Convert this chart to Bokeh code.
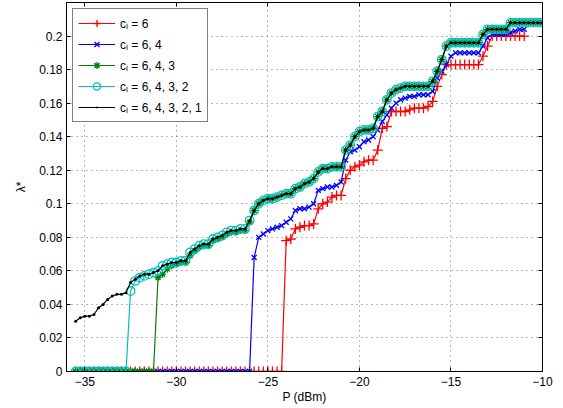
import numpy as np
from bokeh.plotting import figure
from bokeh.models import Range1d, LinearAxis, FixedTicker, CustomJSTickFormatter
from bokeh.embed import file_html
from bokeh.resources import INLINE

# ---------------- data ----------------
P_DBM = np.round(-35.5 + 0.25 * np.arange(103), 2)   # transmit power grid (dBm)

LABELS = ["cₗ = 6", "cₗ = 6, 4", "cₗ = 6, 4, 3", "cₗ = 6, 4, 3, 2", "cₗ = 6, 4, 3, 2, 1"]

LAM_6 = [0.0] * 46 + [
    0.078, 0.079, 0.085, 0.086, 0.087, 0.087, 0.088, 0.097, 0.100, 0.101,
    0.104, 0.105, 0.105, 0.115, 0.120, 0.122, 0.123, 0.125, 0.126, 0.126,
    0.132, 0.145, 0.146, 0.155, 0.155, 0.155, 0.155, 0.156, 0.157, 0.157,
    0.157, 0.158, 0.161, 0.170, 0.177, 0.183, 0.183, 0.183, 0.183, 0.183,
    0.183, 0.183, 0.183, 0.188, 0.194, 0.200, 0.200, 0.200, 0.200, 0.200,
    0.200, 0.200, 0.200]

LAM_64 = [0.0] * 39 + [
    0.068, 0.080, 0.082, 0.084, 0.085, 0.086, 0.087, 0.089, 0.091, 0.096,
    0.097, 0.097, 0.098, 0.100, 0.108, 0.109, 0.110, 0.110, 0.111, 0.113,
    0.126, 0.131, 0.132, 0.134, 0.137, 0.138, 0.140, 0.144, 0.149, 0.153,
    0.157, 0.160, 0.162, 0.163, 0.164, 0.164, 0.165, 0.165, 0.165, 0.167,
    0.175, 0.179, 0.183, 0.188, 0.190, 0.190, 0.190, 0.190, 0.190, 0.190,
    0.194, 0.199, 0.201, 0.201, 0.201, 0.201, 0.202, 0.203, 0.204, 0.204]

LAM_64321 = [
    0.030, 0.032, 0.033, 0.033, 0.034, 0.038, 0.040, 0.043, 0.045, 0.046,
    0.046, 0.047, 0.053, 0.055, 0.057, 0.058, 0.058, 0.059, 0.060, 0.063,
    0.064, 0.065, 0.065, 0.066, 0.066, 0.071, 0.073, 0.075, 0.076, 0.076,
    0.079, 0.080, 0.081, 0.083, 0.084, 0.084, 0.085, 0.085, 0.090, 0.096,
    0.100, 0.102, 0.103, 0.103, 0.104, 0.105, 0.106, 0.106, 0.109, 0.110,
    0.112, 0.113, 0.115, 0.119, 0.121, 0.121, 0.122, 0.122, 0.122, 0.132,
    0.135, 0.140, 0.143, 0.144, 0.144, 0.145, 0.152, 0.155, 0.162, 0.166,
    0.168, 0.169, 0.170, 0.170, 0.170, 0.170, 0.170, 0.170, 0.173, 0.179,
    0.186, 0.194, 0.196, 0.196, 0.196, 0.196, 0.196, 0.196, 0.196, 0.201,
    0.204, 0.204, 0.204, 0.204, 0.204, 0.208, 0.208, 0.208, 0.208, 0.208,
    0.208, 0.208, 0.208]

LAM_6432 = [0.0] * 12 + [0.048, 0.054, 0.056, 0.057, 0.058, 0.059] + LAM_64321[18:]

LAM_643 = [0.0] * 18 + [
    0.056, 0.058, 0.061, 0.063, 0.064, 0.065, 0.065, 0.069, 0.072, 0.074,
    0.075, 0.075, 0.078, 0.079, 0.080, 0.082, 0.083, 0.083, 0.084, 0.084,
    0.089] + LAM_64321[39:]

X_TICKS = [-35, -30, -25, -20, -15, -10]
Y_TICKS = [0, 0.02, 0.04, 0.06, 0.08, 0.1, 0.12, 0.14, 0.16, 0.18, 0.2]

FONT = "Liberation Sans"

# ---------------- figure ----------------
p = figure(width=563, height=408, output_backend="svg", toolbar_location=None,
           x_range=Range1d(-36, -10), y_range=Range1d(0, 0.22),
           min_border_left=66, min_border_right=21, min_border_top=2, min_border_bottom=37,
           background_fill_color="white", border_fill_color="white")
p.outline_line_color = "black"
p.outline_line_width = 1

x_fmt = CustomJSTickFormatter(code="return tick < 0 ? '\\u2212' + Math.abs(tick) : String(tick);")
y_fmt = CustomJSTickFormatter(code="var s = tick.toFixed(2); s = s.replace(/0+$/, ''); s = s.replace(/\\.$/, ''); return s;")

for ax, fmt, ticks in ((p.xaxis[0], x_fmt, X_TICKS), (p.yaxis[0], y_fmt, Y_TICKS)):
    ax.ticker = FixedTicker(ticks=ticks)
    ax.formatter = fmt
    ax.major_tick_in = 4
    ax.major_tick_out = 0
    ax.minor_tick_out = 0
    ax.minor_tick_line_color = None
    ax.axis_line_color = "black"
    ax.major_tick_line_color = "black"
    ax.major_label_text_font = FONT
    ax.major_label_text_font_size = "12px"
    ax.major_label_text_color = "black"
    ax.axis_label_text_font = FONT
    ax.axis_label_text_font_size = "12px"
    ax.axis_label_text_font_style = "normal"
    ax.axis_label_text_color = "black"

p.xaxis[0].axis_label = "P (dBm)"
p.xaxis[0].major_label_standoff = 5
p.xaxis[0].axis_label_standoff = 1
p.yaxis[0].axis_label = "λ*"
p.yaxis[0].major_label_standoff = 4
p.yaxis[0].axis_label_standoff = 8

blank = CustomJSTickFormatter(code="return '';")
top = LinearAxis(ticker=FixedTicker(ticks=X_TICKS), formatter=blank, major_tick_in=4,
                 major_tick_out=0, minor_tick_out=0, minor_tick_line_color=None,
                 major_label_text_font_size="0px", major_label_standoff=0)
right = LinearAxis(ticker=FixedTicker(ticks=Y_TICKS), formatter=blank, major_tick_in=4,
                   major_tick_out=0, minor_tick_out=0, minor_tick_line_color=None,
                   major_label_text_font_size="0px", major_label_standoff=0)
p.add_layout(top, "above")
p.add_layout(right, "right")

for g in (p.xgrid[0], p.ygrid[0]):
    g.grid_line_color = "black"
    g.grid_line_alpha = 0.55
    g.grid_line_dash = "1 4"
    g.grid_line_width = 1
p.xgrid[0].ticker = FixedTicker(ticks=X_TICKS)
p.ygrid[0].ticker = FixedTicker(ticks=Y_TICKS)

# ---------------- series ----------------
series = [
    (LAM_6, "#ff0000", "cross", 10, None),
    (LAM_64, "#0000ff", "x", 7, None),
    (LAM_643, "#008000", "asterisk", 7, None),
    (LAM_6432, "#00bfbf", "circle", 8.5, None),
    (LAM_64321, "#000000", "dot", 12, "#000000"),
]
for (vals, col, mk, sz, fill), lab in zip(series, LABELS):
    xs = P_DBM[:len(vals)]
    p.line(xs, vals, line_color=col, line_width=1.2, legend_label=lab)
    p.scatter(xs, vals, marker=mk, size=sz, line_color=col, fill_color=fill,
              line_width=1.3, legend_label=lab)

lg = p.legend[0]
lg.location = "top_left"
lg.margin = 6
lg.padding = 5
lg.spacing = 3
lg.glyph_width = 37
lg.glyph_height = 18
lg.label_height = 18
lg.label_standoff = 5
lg.label_text_font = FONT
lg.label_text_font_size = "12px"
lg.label_text_color = "black"
lg.border_line_color = "black"
lg.border_line_width = 1
lg.background_fill_color = "white"
lg.background_fill_alpha = 1

open("out.html", "w").write(file_html(p, INLINE))
